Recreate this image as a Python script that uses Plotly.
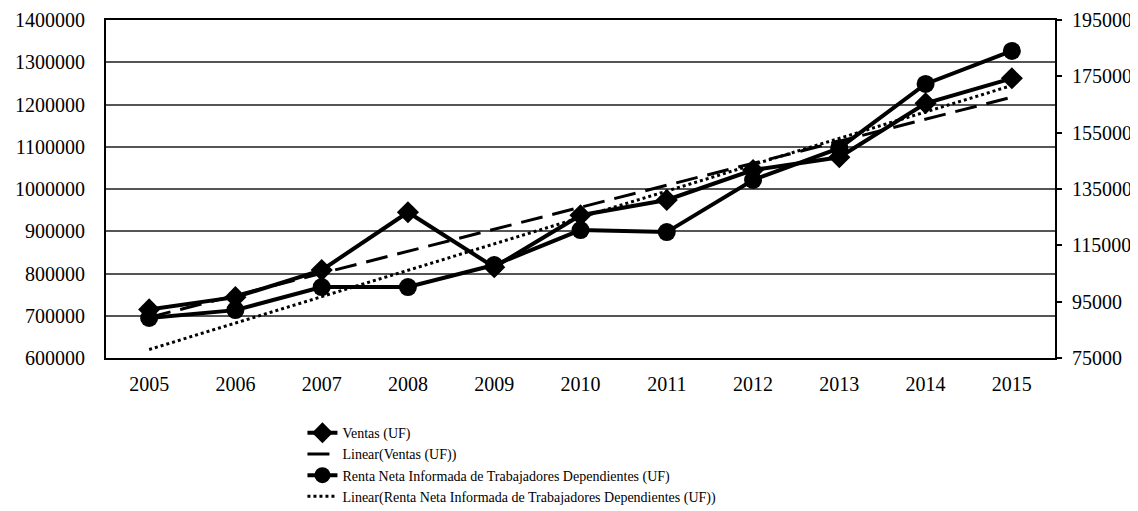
import numpy as np
import plotly.graph_objects as go

years = [2005, 2006, 2007, 2008, 2009, 2010, 2011, 2012, 2013, 2014, 2015]
ventas = [715000, 744000, 808000, 945000, 815000, 938000, 974000, 1045000, 1075000, 1203000, 1262000]
renta = [89200, 92000, 100200, 100200, 108000, 120400, 119700, 138200, 149500, 172300, 184000]

name_v = "Ventas (UF)"
name_vl = "Linear(Ventas (UF))"
name_r = "Renta Neta Informada de Trabajadores Dependientes (UF)"
name_rl = "Linear(Renta Neta Informada de Trabajadores Dependientes (UF))"

x = np.array(years, dtype=float)
cv = np.polyfit(x, np.array(ventas, dtype=float), 1)
cr = np.polyfit(x, np.array(renta, dtype=float), 1)
trend_v = np.polyval(cv, x)
trend_r = np.polyval(cr, x)

FONT = "Liberation Serif"

fig = go.Figure()
fig.add_trace(go.Scatter(x=years, y=ventas, name=name_v, mode="lines+markers",
                         line=dict(color="black", width=4),
                         marker=dict(symbol="diamond", size=17, color="black")))
fig.add_trace(go.Scatter(x=years, y=trend_v, name=name_vl, mode="lines",
                         line=dict(color="black", width=3, dash="22px,10px")))
fig.add_trace(go.Scatter(x=years, y=renta, name=name_r, mode="lines+markers", yaxis="y2",
                         line=dict(color="black", width=4),
                         marker=dict(symbol="circle", size=18, color="black")))
fig.add_trace(go.Scatter(x=years, y=trend_r, name=name_rl, mode="lines", yaxis="y2",
                         line=dict(color="black", width=3, dash="dot")))

fig.update_layout(
    width=1138, height=511,
    margin=dict(l=98, r=91, t=12, b=161, autoexpand=False),
    paper_bgcolor="white", plot_bgcolor="white",
    font=dict(family=FONT, size=20, color="black"),
    showlegend=True,
    legend=dict(x=0.207, y=-0.175, xanchor="left", yanchor="top",
                font=dict(family=FONT, size=14),
                itemwidth=30, tracegroupgap=0, bgcolor="rgba(0,0,0,0)"),
    xaxis=dict(range=[2004.5, 2015.5], tickmode="array", tickvals=years,
               ticktext=[str(y) for y in years], showgrid=False, zeroline=False,
               showline=True, linecolor="black", linewidth=2, mirror=True,
               ticks="", ticklabelstandoff=7, tickangle=0),
    yaxis=dict(range=[600000, 1400000], dtick=100000, tick0=600000, tickformat="d",
               showgrid=True, gridcolor="#555", gridwidth=2, zeroline=False,
               showline=True, linecolor="black", linewidth=2, ticks="",
               ticklabelstandoff=15),
    yaxis2=dict(range=[75000, 195000], dtick=20000, tick0=75000, tickformat="d",
                overlaying="y", side="right", showgrid=False, zeroline=False,
                showline=True, linecolor="black", linewidth=2,
                ticks="outside", ticklen=5, tickcolor="black", tickwidth=1.5,
                ticklabelstandoff=6),
)

fig.write_html("out.html")
